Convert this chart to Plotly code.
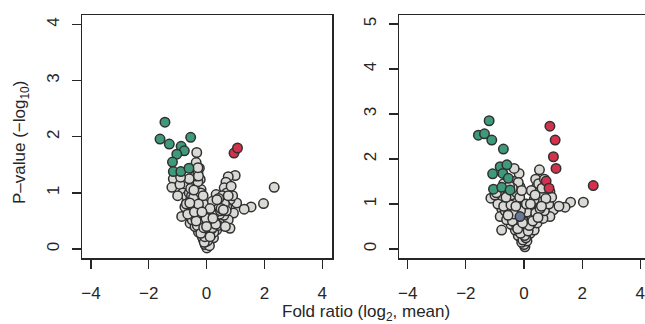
import plotly.graph_objects as go

# ---------------- data ----------------
# Left panel
left_grey_x = [-0.34, -0.36, -0.25, -1.15, -1.20, -0.92, -0.51, -0.22, -0.48, -0.82, -0.19,
               0.99, 0.75, 0.67, 0.61, 2.34, 1.97, 1.54, 1.30, 0.93, 1.04, 0.81, 0.33, 0.47,
               0.70, -0.86, -0.69, -0.51, -0.69, -0.22, -0.17, -0.34, -0.57, -0.22, -0.05,
               0.06, 0.24, 0.35, 0.53, 0.75, 0.81, 0.41, 0.12, -0.11, 0.01,
               -0.05, 0.10, -0.15, 0.15, -0.28, 0.00, 0.25, -0.40, -0.15, 0.05, 0.20, 0.40,
               -0.45, -0.30, -0.05, 0.15, 0.30, 0.60, -0.60, -0.40, 0.25, 0.55, 0.70, -0.55,
               -0.35, 0.60, 0.90, -0.60, -0.35, -0.42, -0.30, -0.40, -0.30, -0.60, -0.90,
               0.85, 0.55, -1.00, -0.75, -0.10, 0.45, 0.65, -0.25, 0.05,
               -0.02, 0.04, -0.08, 0.08, -0.18, -0.12, 0.18, 0.28, -0.32, -0.22, 0.10,
               -0.50, -0.38, -0.25, 0.30, 0.48, -0.65, -0.48, 0.38, 0.62, -0.70, -0.52,
               0.42, 0.75, -0.45, -0.20, 0.20, -0.55, 0.68, -0.28, -0.12, 0.02,
               -0.06, 0.12, -0.20, 0.20, -0.10, 0.32, -0.36, -0.02, 0.22, -0.42, 0.50,
               -0.28, 0.12, -0.58, 0.58, -0.16, 0.36, -0.44, 0.00, -0.30]
left_grey_y = [1.72, 1.54, 1.44, 1.25, 1.10, 1.15, 1.19, 1.24, 1.06, 1.00, 1.06,
               1.31, 1.29, 1.19, 1.09, 1.10, 0.81, 0.75, 0.71, 0.64, 0.82, 0.88, 0.97, 0.82,
               1.00, 0.58, 0.82, 0.70, 0.94, 0.88, 0.70, 0.52, 0.46, 0.34, 0.28,
               0.11, 0.20, 0.34, 0.49, 0.52, 0.37, 0.64, 0.40, 0.17, 0.02,
               0.08, 0.06, 0.22, 0.25, 0.30, 0.33, 0.30, 0.40, 0.45, 0.50, 0.45, 0.42,
               0.60, 0.62, 0.60, 0.58, 0.55, 0.60, 0.70, 0.75, 0.72, 0.70, 0.75, 0.88,
               0.85, 0.85, 0.95, 1.00, 0.98, 1.12, 1.20, 1.30, 1.35, 1.25, 1.28,
               1.12, 0.95, 0.95, 0.75, 0.80, 0.62, 0.40, 0.60, 0.18,
               0.13, 0.15, 0.12, 0.28, 0.38, 0.30, 0.36, 0.48, 0.42, 0.52, 0.62,
               0.52, 0.55, 0.70, 0.65, 0.68, 0.62, 0.78, 0.78, 0.80, 0.80, 0.95,
               0.90, 0.95, 0.92, 1.00, 0.85, 1.08, 0.68, 1.30, 0.95, 0.45,
               0.22, 0.22, 0.28, 0.38, 0.38, 0.44, 0.50, 0.55, 0.55, 0.66, 0.72,
               0.80, 0.72, 0.82, 0.70, 0.66, 0.88, 1.05, 0.40, 1.45]
left_green_x = [-1.44, -1.61, -1.29, -0.55, -0.88, -0.77, -1.03, -1.18, -1.15, -0.89, -0.61]
left_green_y = [2.26, 1.96, 1.87, 1.99, 1.83, 1.75, 1.69, 1.55, 1.38, 1.38, 1.44]
left_red_x = [0.95, 1.07]
left_red_y = [1.71, 1.80]

# Right panel
right_grey_x = [-0.17, -0.34, 0.53, 0.44, 0.89, 2.04, 1.60, 1.41, -0.77, -1.14, -0.77, -0.82,
                -0.14, 0.78, 1.01, 0.89, 0.03, -0.14, 0.21, 0.32, 0.55, -0.37, -0.48, -0.08,
                0.09, 0.44, 0.66, -0.14, -0.42,
                0.00, -0.08, 0.10, -0.20, 0.05, -0.30, -0.10, 0.15, 0.35, -0.45, -0.20, 0.45,
                -0.60, -0.35, 0.20, 0.65, -0.65, -0.30, 0.30, 0.70, -0.55, -0.28, 0.50, 0.85,
                -0.75, -0.45, -0.25, 0.60, 0.40, -0.35, -0.20, -0.90, -1.00, 0.95, 1.20,
                0.75, 0.50, -0.60,
                -0.04, 0.06, -0.15, 0.22, -0.25, 0.00, 0.28, -0.40, 0.10, 0.40, -0.52,
                -0.12, 0.55, -0.70, -0.45, 0.35, 0.75, -0.62, -0.15, 0.62, -0.85, -0.40,
                0.25, -0.70, 0.70,
                0.02, -0.12, 0.14, -0.22, 0.18, -0.05, 0.30, -0.35, 0.48, -0.28, 0.08,
                -0.55, 0.38, -0.08, 0.60, -0.50, 0.22, -0.95]
right_grey_y = [1.68, 1.79, 1.76, 1.38, 1.27, 1.04, 1.04, 0.93, 0.42, 1.13, 0.90, 0.72,
                1.09, 1.02, 0.87, 0.72, 0.05, 0.27, 0.35, 0.57, 0.72, 0.57, 0.79, 0.72,
                0.94, 0.94, 1.16, 1.38, 1.16,
                0.10, 0.15, 0.18, 0.30, 0.30, 0.42, 0.45, 0.45, 0.42, 0.55, 0.58, 0.58,
                0.65, 0.70, 0.68, 0.68, 0.85, 0.88, 0.82, 0.85, 1.00, 1.02, 1.05, 1.00,
                1.10, 1.20, 1.25, 1.25, 1.55, 1.50, 1.48, 1.00, 1.20, 1.15, 0.95,
                1.40, 1.45, 1.30,
                0.20, 0.25, 0.38, 0.55, 0.50, 0.60, 0.70, 0.62, 0.82, 0.80, 0.80,
                0.85, 0.90, 0.95, 0.98, 1.10, 1.12, 1.15, 1.15, 1.35, 1.30, 1.35,
                1.30, 1.45, 1.55,
                0.30, 0.35, 0.40, 0.45, 0.52, 0.58, 0.62, 0.78, 0.70, 0.95, 1.00,
                0.75, 1.20, 1.30, 0.95, 1.40, 1.00, 1.25]
right_green_x = [-1.20, -1.57, -1.36, -1.11, -0.71, -0.82, -0.59, -1.08, -0.73, -0.54,
                 -1.05, -0.77, -0.48]
right_green_y = [2.85, 2.53, 2.56, 2.42, 2.22, 1.83, 1.87, 1.67, 1.68, 1.57,
                 1.33, 1.37, 1.31]
right_red_x = [0.89, 1.07, 1.01, 1.10, 0.76, 0.86, 2.38]
right_red_y = [2.73, 2.42, 2.05, 1.79, 1.51, 1.35, 1.41]
right_blue_x = [-0.14]
right_blue_y = [0.72]

x_ticks = [-4, -2, 0, 2, 4]
left_y_ticks = [0, 1, 2, 3, 4]
right_y_ticks = [0, 1, 2, 3, 4, 5]

# ---------------- styles ----------------
GREY = "#d9d9d6"
GREEN = "#3f9a7c"
RED = "#d3324c"
BLUE = "#6a7896"
EDGE = "#303030"
FONT = "Liberation Sans, Arial, sans-serif"
INK = "#262626"

W, H = 645, 324


def px(v):
    return v / W


def py(v):
    return 1 - v / H


def pts(x, y, color, xa, ya):
    return go.Scatter(
        x=x, y=y, mode="markers", xaxis=xa, yaxis=ya, showlegend=False,
        marker=dict(size=9.5, color=color, line=dict(color=EDGE, width=1.5)),
        hoverinfo="skip",
    )


fig = go.Figure()
fig.add_trace(pts(left_grey_x, left_grey_y, GREY, "x", "y"))
fig.add_trace(pts(left_green_x, left_green_y, GREEN, "x", "y"))
fig.add_trace(pts(left_red_x, left_red_y, RED, "x", "y"))
fig.add_trace(pts(right_grey_x, right_grey_y, GREY, "x2", "y2"))
fig.add_trace(pts(right_blue_x, right_blue_y, BLUE, "x2", "y2"))
fig.add_trace(pts(right_green_x, right_green_y, GREEN, "x2", "y2"))
fig.add_trace(pts(right_red_x, right_red_y, RED, "x2", "y2"))

axis_common = dict(
    showgrid=False, zeroline=False, showline=True, linecolor=INK, linewidth=1.5,
    ticks="outside", ticklen=9, tickwidth=1.2, tickcolor=INK,
    tickfont=dict(family=FONT, size=17, color=INK),
)

fig.update_layout(
    width=W, height=H,
    margin=dict(l=0, r=0, t=0, b=0),
    paper_bgcolor="white", plot_bgcolor="white",
    font=dict(family=FONT, color=INK),
    xaxis=dict(axis_common, domain=[px(82), px(332)], range=[-4.31, 4.34],
               tickvals=x_ticks, mirror=True, anchor="y", ticklabelstandoff=10),
    yaxis=dict(axis_common, domain=[py(258), py(15)], range=[-0.16, 4.17],
               tickvals=left_y_ticks, mirror=True, anchor="x", tickangle=-90,
               ticklabelstandoff=6),
    xaxis2=dict(axis_common, domain=[px(399), 1.0], range=[-4.30, 4.16],
                tickvals=x_ticks, mirror=True, anchor="y2", ticklabelstandoff=10,
                ticklabeloverflow="allow"),
    yaxis2=dict(axis_common, domain=[py(258), py(15)], range=[-0.2, 5.2],
                tickvals=right_y_ticks, mirror=False, anchor="x2", tickangle=-90,
                ticklabelstandoff=6),
    annotations=[
        dict(text="Fold ratio (log<sub>2</sub>, mean)", xref="paper", yref="paper",
             x=px(366), y=py(313), showarrow=False, xanchor="center", yanchor="middle",
             font=dict(family=FONT, size=17, color=INK)),
        dict(text="P–value (−log<sub>10</sub>)", xref="paper", yref="paper",
             x=px(21), y=py(143), showarrow=False, textangle=-90,
             xanchor="center", yanchor="middle",
             font=dict(family=FONT, size=17, color=INK)),
    ],
)

fig.write_html(
    "out.html",
    config={"displayModeBar": False, "staticPlot": True},
    post_script="document.body.style.margin='0';document.body.style.overflow='hidden';",
)
